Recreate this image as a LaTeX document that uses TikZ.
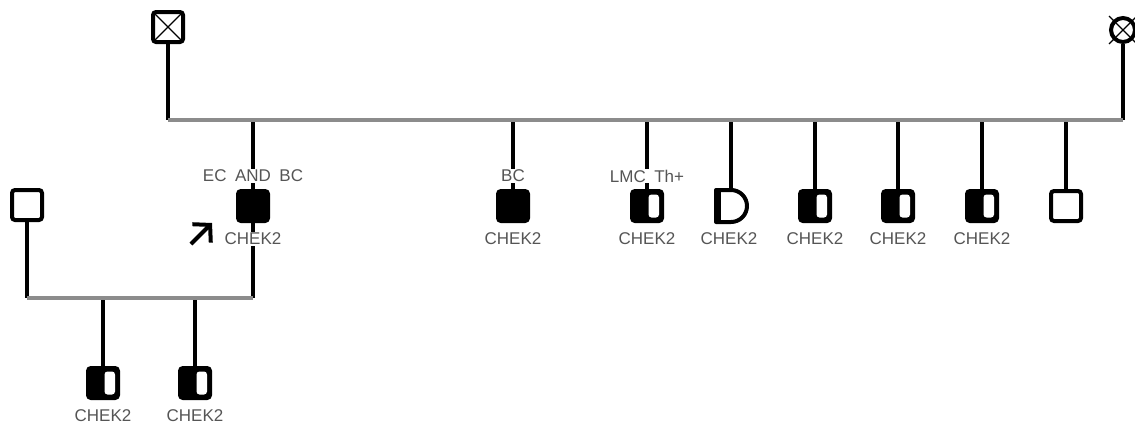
\documentclass[tikz,border=0pt]{standalone}
\usepackage{fontspec}
\setmainfont{Liberation Sans}
\newfontfamily\lblfont[WordSpace=1.8]{Liberation Sans}
\usetikzlibrary{arrows.meta}
\definecolor{linegray}{RGB}{140,140,140}
\definecolor{labelgray}{RGB}{85,85,85}
\tikzset{
  person/.style={draw=black, line width=4pt, rounded corners=3pt, minimum size=30pt, inner sep=0pt},
  affected/.style={person, fill=black},
  carrier/.style={person, fill=black, path picture={
    \fill[white] ([xshift=1.5pt,yshift=-11.5pt]path picture bounding box.center)
      rectangle ([xshift=12pt,yshift=11.5pt]path picture bounding box.center);}},
  deceased/.style={person, path picture={
    \draw[line width=1.3pt] (path picture bounding box.north west) -- (path picture bounding box.south east);
    \draw[line width=1.3pt] (path picture bounding box.south west) -- (path picture bounding box.north east);}},
  descent/.style={line width=4pt},
  mate/.style={linegray, line width=3.5pt, line cap=square},
  lbl/.style={font=\lblfont\fontsize{17}{19}\selectfont, text=labelgray, inner sep=1pt},
}
\begin{document}
\begin{tikzpicture}[x=1pt,y=-1pt]
\useasboundingbox (0,0) rectangle (1135,426);
% grandparents
\node[deceased] (gf) at (168,27) {};
\node[draw, circle, line width=4pt, minimum size=24pt, inner sep=0pt] (gm) at (1123,30) {};
\draw[line width=1.3pt] (gm.center) +(-14pt,-14pt) -- +(14pt,14pt);
\draw[line width=1.3pt] (gm.center) +(-14pt,14pt) -- +(14pt,-14pt);
\coordinate (ml) at (168,120);
\coordinate (mr) at (1123,120);
\draw[descent] (gf) -- (ml);
\draw[descent] (gm) -- (mr);

% sibship
\node[affected] (p) at (253,206) {};
\node[lbl] (pa) at (253,176) {EC AND BC};
\node[lbl] (pb) at (253,239) {CHEK2};
\node[affected] (c2) at (513,206) {};
\node[lbl] (c2a) at (513,176) {BC};
\node[lbl] (c2b) at (513,239) {CHEK2};
\node[carrier] (c3) at (647,206) {};
\node[lbl] (c3a) at (647,176) {LMC Th+};
\node[lbl] (c3b) at (647,239) {CHEK2};
\foreach \n in {p,c2,c3} {
\draw[descent] (\n a.north |- ml) -- (\n a.north);
\draw[descent] (\n a) -- (\n);
}
\coordinate (c4) at (731,190);
\draw[descent] (c4 |- ml) -- (c4);
\draw[line width=4pt, line join=round] (716,190) -- (c4) arc[start angle=90, end angle=-90, radius=16pt] -- (716,222) -- cycle;
\fill (716,190) rectangle (721,222);
\node[lbl] (c4b) at (729,239) {CHEK2};
\foreach \x/\n in {815/c5,898/c6,982/c7} {
\node[carrier] (\n) at (\x,206) {};
\node[lbl] (\n b) at (\x,239) {CHEK2};
\draw[descent] (\x,120) -- (\n);
}
\node[person] (c8) at (1066,206) {};
\draw[descent] (1066,120) -- (c8);
\draw[mate] (ml) -- (mr);

% proband's family
\coordinate (at) at (191,244);
\coordinate (ah) at (212,223);
\draw[line width=4pt, -{Straight Barb[length=12pt,width=26pt]}] (at) -- (ah);
\node[person] (sp) at (27,205) {};
\coordinate (nl) at (27,298);
\coordinate (nr) at (253,298);
\draw[descent] (p) -- (pb);
\draw[descent] (pb) -- (nr);
\draw[descent] (sp) -- (nl);
\foreach \x/\n in {103/g1,195/g2} {
\node[carrier] (\n) at (\x,383) {};
\node[lbl] (\n b) at (\x,416) {CHEK2};
\draw[descent] (\x,298) -- (\n);
}
\draw[mate] (nl) -- (nr);
\end{tikzpicture}
\end{document}
